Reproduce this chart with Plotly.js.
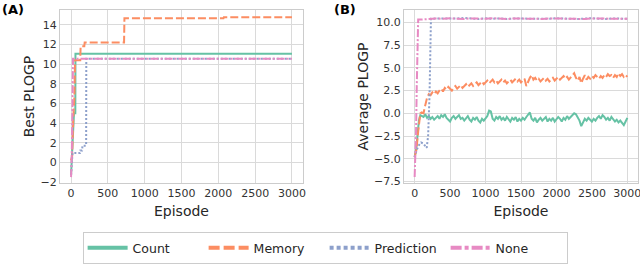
<!DOCTYPE html>
<html>
<head>
<meta charset="utf-8">
<script src="https://cdn.plot.ly/plotly-3.0.1.min.js"></script>
<style>html,body{margin:0;padding:0;background:#fff;}#chart{width:640px;height:264px;}</style>
</head>
<body>
<div id="chart"></div>
<script>
// ---------- Data: panel A (Best PLOGP, step curves) ----------
const seriesNames = ["Count", "Memory", "Prediction", "None"];
const xTickVals = [0, 500, 1000, 1500, 2000, 2500, 3000];

const bestCountEp = [0, 10, 20, 30, 40, 58, 60, 3000];
const bestCountVal = [-1.3, 0.5, 2.0, 4.0, 5.0, 5.0, 11.05, 11.05];

const bestMemoryEp = [0, 15, 30, 45, 55, 125, 130, 180, 185, 300, 305, 720, 725, 2070, 2075, 3000];
const bestMemoryVal = [0.2, 0.6, 4.5, 6.6, 10.4, 10.4, 11.8, 11.8, 12.2, 12.2, 12.2, 12.2, 14.65, 14.65, 14.75, 14.75];

const bestPredEp = [0, 15, 20, 120, 125, 150, 155, 205, 207, 3000];
const bestPredVal = [-1.3, 0.0, 0.95, 0.95, 1.2, 1.2, 1.7, 1.7, 10.55, 10.55];

const bestNoneEp = [0, 10, 20, 27, 3000];
const bestNoneVal = [-1.5, 0.8, 6.0, 10.55, 10.55];

// ---------- Data: panel B (Average PLOGP) ----------
const avgCountEp = [0, 20, 40, 60, 80, 100,
  125,150,175,200,225,250,275,300,325,350,375,400,425,450,475,500,525,550,575,600,625,650,675,700,725,750,775,800,825,850,875,900,925,950,975,1000,
  1025,1050,1075,1100,1125,1150,1175,1200,1225,1250,1275,1300,1325,1350,1375,1400,1425,1450,1475,1500,1525,1550,1575,1600,1625,1650,1675,1700,1725,1750,1775,1800,1825,1850,1875,1900,1925,1950,1975,2000,
  2025,2050,2075,2100,2125,2150,2175,2200,2225,2250,2275,2300,2325,2350,2375,2400,2425,2450,2475,2500,2525,2550,2575,2600,2625,2650,2675,2700,2725,2750,2775,2800,2825,2850,2875,2900,2925,2950,2975,3000];
const avgCountVal = [-4.8, -4.0, -2.5, -0.8, -0.2, -0.3,
  -0.4,-0.1,-0.5,-0.3,-0.6,-0.4,-0.7,-0.5,-0.3,-0.6,-0.2,-0.4,-0.1,-0.5,-0.7,-0.9,-0.5,-0.3,-0.6,-0.4,-0.2,-0.6,-0.5,-0.8,-0.6,-0.3,-0.7,-0.9,-0.5,-0.7,-0.4,-0.8,-1.0,-0.6,-0.8,-0.5,
  -0.3,0.3,0.2,-0.6,-0.8,-0.4,-0.6,-0.3,-0.7,-0.5,-0.8,-0.4,-0.6,-0.9,-0.5,-0.7,-0.4,-0.9,-0.6,-0.8,-0.5,-0.7,-0.4,-0.2,0.1,-0.6,-0.8,-0.5,-1.0,-0.7,-0.5,-0.8,-0.6,-0.4,-0.9,-0.6,-0.8,-0.5,-0.9,-0.7,
  -0.4,-0.6,-0.9,-0.5,-0.7,-0.3,-0.6,-0.4,-0.2,0.0,-0.1,-0.5,-0.8,-1.4,-0.9,-0.6,-0.8,-0.5,-0.7,-0.9,-0.6,-0.8,-0.5,-0.3,-0.6,-0.2,-0.4,-0.7,-0.5,-0.8,-0.4,-0.6,-0.9,-0.7,-1.0,-0.8,-1.1,-1.3,-0.9,-0.5];

const avgMemoryEp = [0, 25, 50, 65, 80, 100, 125, 150, 175, 200,
  225,250,275,300,325,350,375,400,425,450,475,500,525,550,575,600,625,650,675,700,725,750,775,800,825,850,875,900,925,950,975,1000,
  1025,1050,1075,1100,1125,1150,1175,1200,1225,1250,1275,1300,1325,1350,1375,1400,1425,1450,1475,1500,1525,1550,1575,1600,1625,1650,1675,1700,1725,1750,1775,1800,1825,1850,1875,1900,1925,1950,1975,2000,
  2025,2050,2075,2100,2125,2150,2175,2200,2225,2250,2275,2300,2325,2350,2375,2400,2425,2450,2475,2500,2525,2550,2575,2600,2625,2650,2675,2700,2725,2750,2775,2800,2825,2850,2875,2900,2925,2950,2975,3000];
const avgMemoryVal = [-4.8, -4.0, -2.0, -0.5, 0.0, 0.1, 0.0, 0.9, 1.7, 2.1,
  2.0,2.3,2.1,2.4,2.2,2.5,2.7,2.4,2.8,2.6,2.9,2.7,2.5,2.8,3.0,2.7,2.9,3.1,2.8,3.0,3.2,2.9,3.1,3.3,3.0,3.2,3.4,3.1,3.3,3.5,3.2,3.4,
  3.6,3.3,3.5,3.7,3.4,3.6,3.3,3.5,3.7,3.4,3.6,3.3,3.5,3.7,3.4,3.6,3.8,3.5,3.7,3.4,3.6,3.8,3.0,3.5,3.9,4.2,3.7,3.9,3.6,3.8,3.5,3.7,3.9,3.6,3.8,3.5,3.7,3.9,3.6,3.8,
  4.0,3.7,3.9,4.1,3.8,4.0,3.7,3.9,4.1,4.4,3.9,3.6,4.0,3.3,3.8,4.2,3.7,4.0,3.8,4.1,3.9,4.2,4.0,3.8,4.1,3.9,4.2,4.0,4.3,4.1,4.2,3.9,4.2,4.0,4.4,4.1,4.3,4.0,4.2,4.0];

const avgPredEp = [0, 30, 60, 90, 120, 150, 170, 190, 210, 230,
  300,400,500,600,700,800,900,1000,1100,1200,1300,1400,1500,1600,1700,1800,1900,2000,2100,2200,2300,2400,2500,2600,2700,2800,2900,3000];
const avgPredVal = [-4.8, -4.0, -3.5, -3.2, -3.3, -3.6, -3.8, -2.5, 2.0, 10.4,
  10.4,10.45,10.38,10.42,10.47,10.4,10.36,10.44,10.39,10.43,10.37,10.42,10.45,10.4,10.38,10.43,10.4,10.44,10.39,10.42,10.36,10.41,10.45,10.4,10.37,10.43,10.4,10.38];

const avgNoneEp = [0, 10, 20, 30, 40, 50, 100, 150, 200, 250,
  300,400,500,600,700,800,900,1000,1100,1200,1300,1400,1500,1600,1700,1800,1900,2000,2100,2200,2300,2400,2500,2600,2700,2800,2900,3000];
const avgNoneVal = [-7.0, -5.0, -2.0, 3.0, 8.0, 10.3, 10.3, 10.35, 10.4, 10.4,
  10.42,10.38,10.44,10.4,10.37,10.43,10.41,10.38,10.45,10.4,10.36,10.42,10.39,10.44,10.4,10.37,10.43,10.41,10.38,10.44,10.4,10.36,10.42,10.4,10.45,10.39,10.41,10.38];

// ---------- Styles ----------
const colors = ["#66c2a5", "#fc8d62", "#8da0cb", "#e78ac3"];
const dashes = ["solid", "8px,3px", "2px,2px", "8px,2px,2px,2px"];
const legendDashes = ["solid", "11px,4px", "4px,3px", "11px,3px,4px,3px"];
const lw = 2;

function tr(x, y, i, xa, ya) {
  return {
    x: x, y: y, type: "scatter", mode: "lines",
    name: seriesNames[i], legendgroup: seriesNames[i], showlegend: false,
    xaxis: xa, yaxis: ya,
    line: {color: colors[i], width: lw, dash: dashes[i], shape: "linear"}
  };
}
// legend-only entries (no data), drawn with the thicker legend sample
function legendEntry(i) {
  return {
    x: [null], y: [null], type: "scatter", mode: "lines",
    name: seriesNames[i], legendgroup: seriesNames[i], showlegend: true,
    xaxis: "x", yaxis: "y", hoverinfo: "skip",
    line: {color: colors[i], width: 4, dash: legendDashes[i]}
  };
}

const data = [
  tr(bestCountEp, bestCountVal, 0, "x", "y"),
  tr(bestMemoryEp, bestMemoryVal, 1, "x", "y"),
  tr(bestPredEp, bestPredVal, 2, "x", "y"),
  tr(bestNoneEp, bestNoneVal, 3, "x", "y"),
  tr(avgCountEp, avgCountVal, 0, "x2", "y2"),
  tr(avgMemoryEp, avgMemoryVal, 1, "x2", "y2"),
  tr(avgPredEp, avgPredVal, 2, "x2", "y2"),
  tr(avgNoneEp, avgNoneVal, 3, "x2", "y2"),
  legendEntry(0), legendEntry(1), legendEntry(2), legendEntry(3)
];

const FONT = "DejaVu Sans, sans-serif";
const tickFont = {family: FONT, size: 11, color: "#333"};
const titleFont = {family: FONT, size: 14, color: "#262626"};
const gridC = "#dadada", lineC = "#cccccc";

function xax(domain, anchor) {
  return {
    domain: domain, anchor: anchor, range: [-150, 3150],
    tickvals: xTickVals, ticks: "", tickfont: tickFont, ticklabeloverflow: "allow",
    showgrid: true, gridcolor: gridC, gridwidth: 1,
    showline: true, linecolor: lineC, linewidth: 1, mirror: true,
    zeroline: false,
    title: {text: "Episode", font: titleFont, standoff: 6}
  };
}
function yax(domain, anchor, range, tickvals, fmt, title) {
  return {
    domain: domain, anchor: anchor, range: range,
    tickvals: tickvals, tickformat: fmt, ticks: "", tickfont: tickFont,
    showgrid: true, gridcolor: gridC, gridwidth: 1,
    showline: true, linecolor: lineC, linewidth: 1, mirror: true,
    zeroline: false,
    title: {text: title, font: titleFont, standoff: 2}
  };
}

const yDom = [1 - 183/264, 1 - 10/264];
const layout = {
  width: 640, height: 264,
  margin: {l: 0, r: 0, t: 0, b: 0},
  paper_bgcolor: "#ffffff", plot_bgcolor: "#ffffff",
  showlegend: true,
  xaxis: xax([60/640, 303/640], "y"),
  yaxis: yax(yDom, "x", [-2.1, 15.5], [-2, 0, 2, 4, 6, 8, 10, 12, 14], "d", "Best PLOGP"),
  xaxis2: xax([404/640, 638/640], "y2"),
  yaxis2: yax(yDom, "x2", [-7.65, 11.35], [-7.5, -5, -2.5, 0, 2.5, 5, 7.5, 10], ".1f", "Average PLOGP"),
  legend: {
    orientation: "h", x: 0.508, xanchor: "center", y: 1 - 232/264, yanchor: "top",
    font: {family: FONT, size: 12.5, color: "#262626"},
    bgcolor: "#ffffff", bordercolor: "#cccccc", borderwidth: 1,
    itemwidth: 40, entrywidth: 66, entrywidthmode: "pixels"
  },
  annotations: [
    {text: "<b>(A)</b>", xref: "paper", yref: "paper", x: 0, y: 1, xanchor: "left", yanchor: "top",
     showarrow: false, font: {family: FONT, size: 13, color: "#000"}},
    {text: "<b>(B)</b>", xref: "paper", yref: "paper", x: 332/640, y: 1, xanchor: "left", yanchor: "top",
     showarrow: false, font: {family: FONT, size: 13, color: "#000"}}
  ]
};

Plotly.newPlot("chart", data, layout, {displayModeBar: false, staticPlot: true});
</script>
</body>
</html>
